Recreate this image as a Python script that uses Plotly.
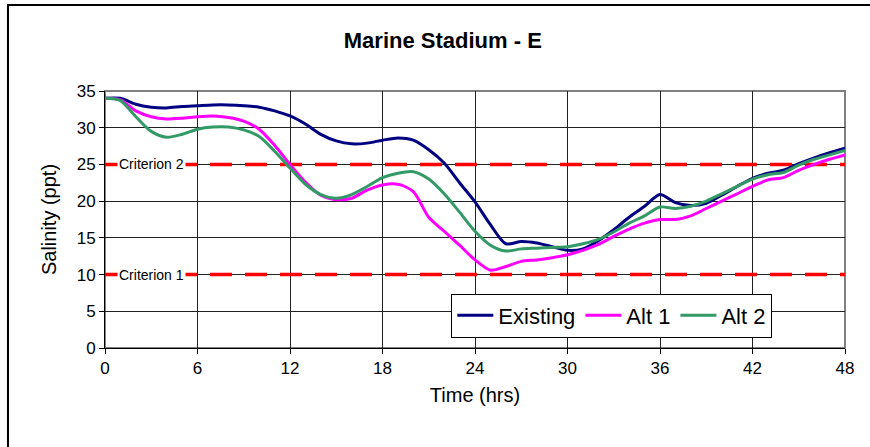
import plotly.graph_objects as go

hours = list(range(0, 49))
existing = [34, 34, 33.2, 32.8, 32.7, 32.9, 33, 33.1, 33.1, 33, 32.8, 32.3, 31.6, 30.5, 29.1, 28.2, 27.8, 27.9, 28.3, 28.6, 28.3,
            27, 25.2, 22.5, 19.9, 16.8, 14.2, 14.5, 14.3, 13.8, 13.3, 13.5, 14.6, 16.1, 17.8, 19.3, 20.9, 19.8, 19.4, 19.7, 20.8,
            22, 23.1, 23.8, 24.2, 25.1, 25.9, 26.6, 27.2]
alt1 = [34, 33.8, 32.3, 31.5, 31.2, 31.3, 31.5, 31.6, 31.4, 30.9, 29.8, 27.6, 25.0, 22.6, 20.8, 20.2, 20.4, 21.5, 22.2, 22.3, 21.3,
        17.8, 15.9, 14.0, 12.0, 10.6, 11.1, 11.8, 12.0, 12.3, 12.7, 13.3, 14.1, 15.2, 16.2, 17.0, 17.5, 17.5, 18.0, 19.0, 20.0,
        21.0, 22.0, 22.9, 23.2, 24.2, 25.0, 25.7, 26.3]
alt2 = [34, 33.7, 31.5, 29.5, 28.7, 29.1, 29.8, 30.1, 30.1, 29.7, 28.8, 26.8, 24.5, 22.3, 20.9, 20.4, 20.9, 22.0, 23.2, 23.8, 24.0,
        23.0, 21.0, 18.5, 15.9, 14.0, 13.2, 13.5, 13.6, 13.7, 13.8, 14.2, 14.8, 15.8, 17.0, 18.0, 19.2, 19.0, 19.3, 20.0, 21.0,
        22.0, 23.0, 23.6, 23.9, 24.9, 25.7, 26.3, 26.9]

criteria_names = ["Criterion 2", "Criterion 1"]
criteria_values = [25, 10]
x_ticks = [0, 6, 12, 18, 24, 30, 36, 42, 48]
y_ticks = [0, 5, 10, 15, 20, 25, 30, 35]

fig = go.Figure()

for name, val in zip(criteria_names, criteria_values):
    fig.add_trace(go.Scatter(x=[0, 48], y=[val, val], mode="lines", showlegend=False,
                             line=dict(color="#FF0000", width=3.5, dash="22px,13px"), hoverinfo="skip"))
    fig.add_annotation(x=3.0, y=val, text=name, showarrow=False, bgcolor="white",
                       font=dict(family="Arial", size=14, color="black"), borderpad=1)

series = [("Existing", existing, "#000080"), ("Alt 1", alt1, "#FF00FF"), ("Alt 2", alt2, "#339966")]
for name, vals, color in series:
    fig.add_trace(go.Scatter(x=hours, y=vals, mode="lines", name=name,
                             line=dict(color=color, width=3, shape="spline", smoothing=0.8)))

fig.update_layout(
    width=870, height=447,
    margin=dict(l=105, r=25, t=91, b=99),
    paper_bgcolor="white", plot_bgcolor="white",
    font=dict(family="Arial", size=17, color="black"),
    title=dict(text="<b>Marine Stadium - E</b>", x=0.509, xanchor="center", y=0.909, yanchor="middle",
               font=dict(family="Arial", size=22, color="black")),
    legend=dict(orientation="h", x=0.468, y=0.212, xanchor="left", yanchor="top",
                bgcolor="white", bordercolor="black", borderwidth=1,
                font=dict(family="Arial", size=22, color="black"), traceorder="normal",
                itemwidth=36, tracegroupgap=0),
    showlegend=True,
)
fig.update_xaxes(range=[0, 48], tickvals=x_ticks, showgrid=True, gridcolor="#222", gridwidth=1,
                 showline=True, linecolor="black", linewidth=1, ticks="outside", ticklen=5, tickcolor="black",
                 mirror=False, zeroline=False, tickfont=dict(size=17),
                 title=dict(text="Time (hrs)", font=dict(size=20), standoff=10))
fig.update_yaxes(range=[0, 35], tickvals=y_ticks, showgrid=True, gridcolor="#222", gridwidth=1,
                 showline=True, linecolor="black", linewidth=1, ticks="outside", ticklen=5, tickcolor="black",
                 zeroline=False, tickfont=dict(size=17),
                 title=dict(text="Salinity (ppt)", font=dict(size=20), standoff=14))
# plot area border (top/right gray)
fig.add_shape(type="rect", xref="paper", yref="paper", x0=0, y0=0, x1=1, y1=1,
              line=dict(color="#808080", width=2), layer="below")
# outer chart border
fig.add_shape(type="rect", xref="paper", yref="paper", x0=-0.1311, y0=-0.45, x1=1.05, y1=1.3346,
              line=dict(color="black", width=2))

fig.write_html("out.html", config={"displayModeBar": False},
               post_script="document.body.style.margin='0';document.body.style.padding='0';")
